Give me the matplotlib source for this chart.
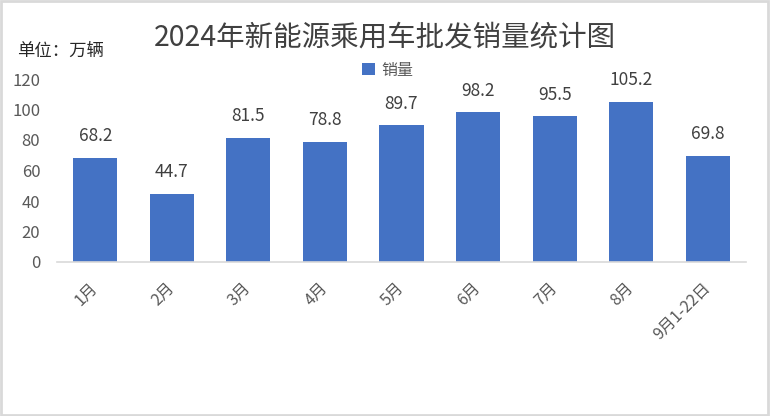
import matplotlib.pyplot as plt
from matplotlib.patches import Rectangle

plt.rcParams['font.family'] = ['Noto Sans CJK SC', 'DejaVu Sans']

# 数据
categories = ['1月', '2月', '3月', '4月', '5月', '6月', '7月', '8月', '9月1-22日']
sales = [68.2, 44.7, 81.5, 78.8, 89.7, 98.2, 95.5, 105.2, 69.8]
y_ticks = [0, 20, 40, 60, 80, 100, 120]

bar_color = '#4472C4'
text_color = '#595959'

fig = plt.figure(figsize=(7.7, 4.16), dpi=100)
ax = fig.add_axes([57 / 770, 1 - 262 / 416, 689 / 770, 183 / 416])

x = range(len(categories))
bars = ax.bar(x, sales, width=0.575, color=bar_color, label='销量', zorder=2)

# 数据标签
for rect, v in zip(bars, sales):
    ax.annotate(f'{v}', (rect.get_x() + rect.get_width() / 2, v),
                xytext=(0, 9), textcoords='offset points',
                ha='center', va='bottom', fontsize=12.5, color='#404040')

ax.set_xlim(-0.5, len(categories) - 0.5)
ax.set_ylim(0, 120)
ax.set_yticks(y_ticks)
ax.set_xticks(list(x))
ax.set_xticklabels(categories, rotation=45, ha='right', va='center',
                   rotation_mode='anchor', fontsize=11.5, color=text_color)
ax.tick_params(axis='x', length=0, pad=17)
ax.tick_params(axis='y', length=0, pad=12, labelsize=12, labelcolor=text_color)

for s in ['top', 'right', 'left']:
    ax.spines[s].set_visible(False)
ax.spines['bottom'].set_color('#D9D9D9')
ax.spines['bottom'].set_linewidth(1.2)

fig.text(385 / 770, 1 - 37 / 416, '2024年新能源乘用车批发销量统计图',
         ha='center', va='center', fontsize=20.5, color='#404040')
fig.text(17 / 770, 1 - 51 / 416, '单位：万辆', ha='left', va='center',
         fontsize=12.5, color='#262626')

fig.legend(loc='center', bbox_to_anchor=(388 / 770, 1 - 70 / 416), frameon=False,
           fontsize=11.5, handlelength=0.8, handleheight=0.8, handletextpad=0.4,
           labelcolor=text_color)

# 外边框
fig.patches.append(Rectangle((0.001, 0.002), 0.997, 0.995, transform=fig.transFigure,
                             fill=False, edgecolor='#D9D9D9', linewidth=2))

fig.savefig('out.png', dpi=100)
